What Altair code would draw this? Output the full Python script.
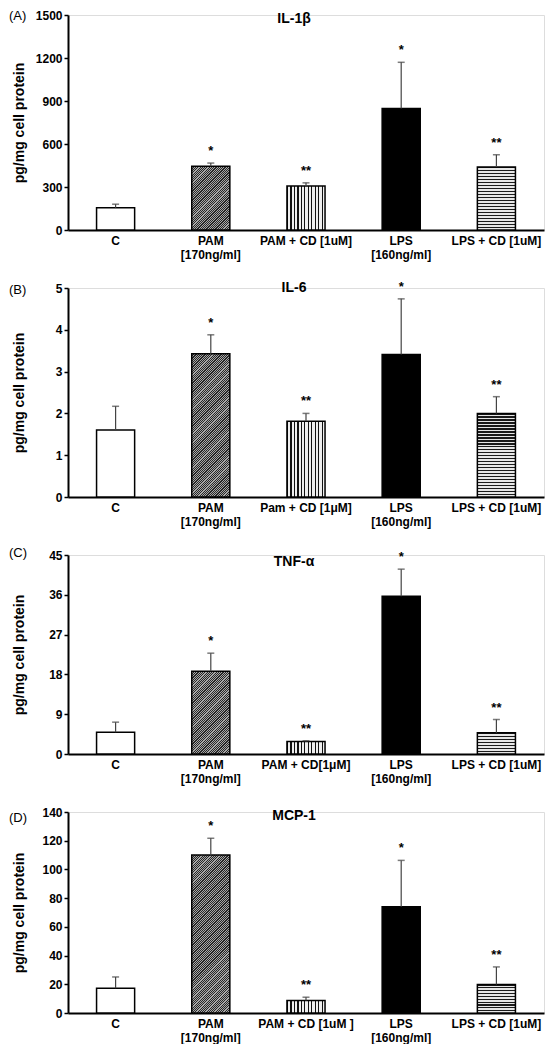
import math
import altair as alt
import pandas as pd

# ---------------- data ----------------
groups = ["C", "PAM", "PAMCD", "LPS", "LPSCD"]
stars = ["", "*", "**", "*", "**"]

labels_A = ["C", "PAM|[170ng/ml]", "PAM + CD [1uM]", "LPS|[160ng/ml]", "LPS + CD [1uM]"]
labels_B = ["C", "PAM|[170ng/ml]", "Pam + CD [1μM]", "LPS|[160ng/ml]", "LPS + CD [1uM]"]
labels_C = ["C", "PAM|[170ng/ml]", "PAM + CD[1μM]", "LPS|[160ng/ml]", "LPS + CD [1uM]"]
labels_D = ["C", "PAM|[170ng/ml]", "PAM + CD [1uM ]", "LPS|[160ng/ml]", "LPS + CD [1uM]"]

il1b_mean = [155, 445, 307, 848, 440]
il1b_err = [25, 22, 22, 322, 85]
il6_mean = [1.60, 3.43, 1.81, 3.41, 2.00]
il6_err = [0.57, 0.45, 0.19, 1.33, 0.40]
tnf_mean = [4.9, 18.7, 2.8, 35.7, 4.8]
tnf_err = [2.3, 4.1, 0.2, 6.1, 3.0]
mcp_mean = [17.3, 110.0, 8.7, 74.0, 19.9]
mcp_err = [7.8, 11.7, 2.3, 32.3, 12.2]

ticks_A = [0, 300, 600, 900, 1200, 1500]
ticks_B = [0, 1, 2, 3, 4, 5]
ticks_C = [0, 9, 18, 27, 36, 45]
ticks_D = [0, 20, 40, 60, 80, 100, 120, 140]

FONT = "Liberation Sans"
W = 476
BAR_W = W / 5 * 0.4


def stripes(n, dark, light, frac, x2, y2):
    stops = []
    for i in range(n):
        a = i / n
        b = (i + frac) / n
        c = (i + 1) / n
        stops += [
            alt.GradientStop(offset=a, color=dark),
            alt.GradientStop(offset=b, color=dark),
            alt.GradientStop(offset=b, color=light),
            alt.GradientStop(offset=c, color=light),
        ]
    return alt.LinearGradient(gradient="linear", stops=stops, x1=0, y1=0, x2=x2, y2=y2)


def fills(mean, ymax, h):
    out = {}
    out["C"] = "white"
    out["LPS"] = "black"
    # diagonal hatch
    H = max(mean[1] / ymax * h, 1)
    c = (BAR_W + H) / (BAR_W ** 2 + H ** 2)
    n = max(2, round((BAR_W + H) / math.sqrt(2) / 1.6))
    out["PAM"] = stripes(n, "#262626", "#a8a8a8", 0.5, BAR_W * c, H * c)
    # vertical stripes
    out["PAMCD"] = stripes(11, "#111111", "#eeeeee", 0.35, 1, 0)
    # horizontal stripes
    H2 = max(mean[4] / ymax * h, 1)
    n2 = max(2, round(H2 / 3.0))
    out["LPSCD"] = stripes(n2, "#1a1a1a", "#e6e6e6", 0.42, 0, 1)
    return out


def panel(title, letter, labels, mean, err, ymax, ticks, h, title_y, letter_y):
    df = pd.DataFrame({
        "label": labels,
        "group": groups,
        "mean": mean,
        "top": [m + e for m, e in zip(mean, err)],
        "star": stars,
    })
    x = alt.X(
        "label:N",
        sort=labels,
        scale=alt.Scale(domain=labels, paddingInner=0.6, paddingOuter=0.3),
        axis=alt.Axis(
            title=None, labelAngle=0, labelExpr="split(datum.label, '|')",
            ticks=False, labelPadding=5, labelFontSize=12, labelFontWeight="bold",
            labelColor="black", labelLineHeight=14, labelBaseline="top",
            domainColor="black", domainWidth=2, labelFont=FONT,
        ),
    )
    y = alt.Y(
        "mean:Q",
        scale=alt.Scale(domain=[0, ymax], nice=False, zero=True),
        axis=alt.Axis(
            values=ticks, tickCount=len(ticks) + 2, format="d", title="pg/mg cell protein",
            titleFontSize=14, titleFontWeight="bold", titleColor="black", titleFont=FONT,
            titleX=-49, titleY=h / 2, titleAngle=-90, titleAlign="center",
            titleBaseline="middle",
            labelFontSize=12, labelFontWeight="bold", labelColor="black", labelFont=FONT,
            labelPadding=2, tickSize=4, tickColor="black", tickWidth=1.5,
            labelOverlap=False, labelFlush=False, labelBound=False,
            domainColor="black", domainWidth=2, grid=False,
        ),
    )
    base = alt.Chart(df)
    f = fills(mean, ymax, h)
    layers = []
    for g in groups:
        layers.append(
            base.transform_filter(alt.datum.group == g)
            .mark_bar(fill=f[g], stroke="black", strokeWidth=1.5, fillOpacity=1)
            .encode(x=x, y=y)
        )
    err_line = base.mark_rule(color="#444444", strokeWidth=1.2).encode(
        x=x, y=alt.Y("mean:Q"), y2="top:Q"
    )
    err_cap = base.mark_tick(color="#444444", size=7, thickness=1.5).encode(
        x=x, y=alt.Y("top:Q")
    )
    star_txt = base.mark_text(
        dy=-12, fontSize=13, fontWeight="bold", baseline="middle", font=FONT, color="black"
    ).encode(x=x, y=alt.Y("top:Q"), text="star:N")
    tdf = pd.DataFrame({"t": [title], "l": [letter]})
    title_txt = alt.Chart(tdf).mark_text(
        fontSize=14, fontWeight="bold", font=FONT, color="black",
        align="center", baseline="middle",
    ).encode(x=alt.value(226), y=alt.value(title_y), text="t:N")
    letter_txt = alt.Chart(tdf).mark_text(
        fontSize=13, font=FONT, color="black", align="left", baseline="middle",
    ).encode(x=alt.value(-59), y=alt.value(letter_y), text="l:N")
    return alt.layer(*layers, err_line, err_cap, star_txt, title_txt, letter_txt).properties(
        width=W, height=h
    )


pA = panel("IL-1β", "(A)", labels_A, il1b_mean, il1b_err, 1500, ticks_A, 215, 4, 1)
pB = panel("IL-6", "(B)", labels_B, il6_mean, il6_err, 5, ticks_B, 209, 0, 2)
pC = panel("TNF-α", "(C)", labels_C, tnf_mean, tnf_err, 45, ticks_C, 199, 7, -2)
pD = panel("MCP-1", "(D)", labels_D, mcp_mean, mcp_err, 140, ticks_D, 201, 4, 6)

chart = (
    alt.vconcat(pA, pB, pC, pD, spacing=58, bounds="flush")
    .properties(padding=0)
    .configure_view(stroke=None)
    .configure(font=FONT, background="white")
)

chart.save("out.html", embed_options={"renderer": "svg", "actions": False})
